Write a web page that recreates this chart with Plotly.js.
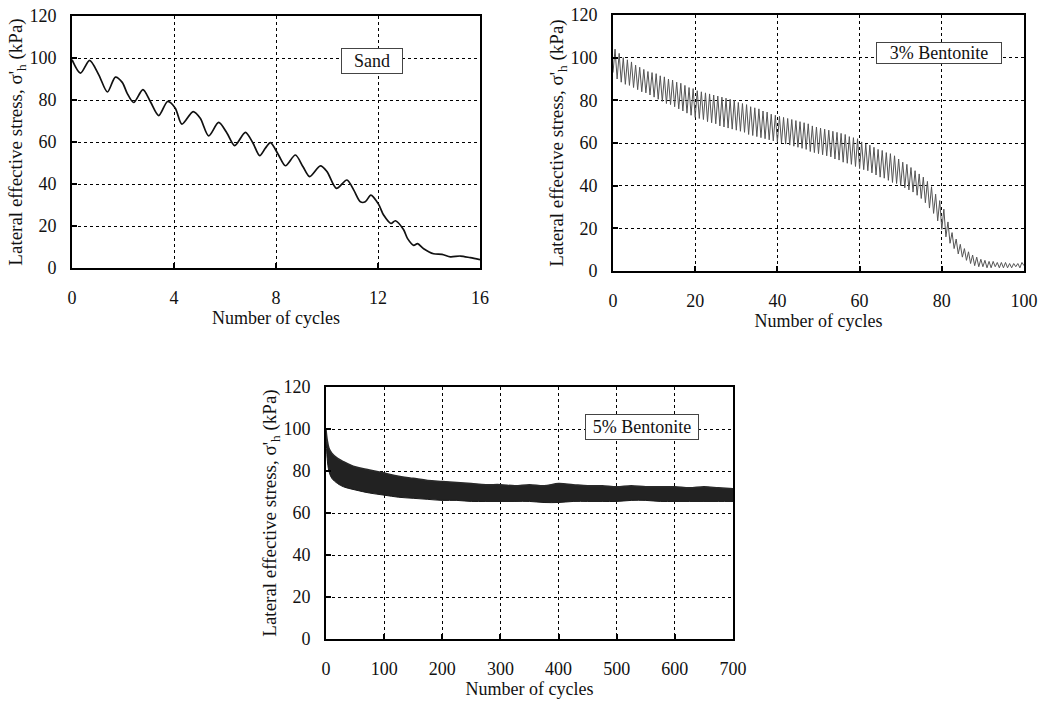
<!DOCTYPE html>
<html>
<head>
<meta charset="utf-8">
<script src="https://cdn.plot.ly/plotly-3.0.1.min.js"></script>
<style>html,body{margin:0;padding:0;background:#fff;}#chart{width:1041px;height:702px;}</style>
</head>
<body>
<div id="chart"></div>
<script>
// ---------- Sand (0-16 cycles) ----------
var sandCycles = [0, 0.33, 0.69, 1.05, 1.39, 1.7, 1.97, 2.16, 2.42, 2.78, 3.07, 3.4, 3.75, 4.05, 4.31, 4.75, 5.03, 5.36, 5.75, 6.08, 6.38, 6.8, 7.1, 7.36, 7.58, 7.78, 8.1, 8.37, 8.76, 9.06, 9.32, 9.74, 10.0, 10.37, 10.78, 11.05, 11.31, 11.5, 11.72, 12.02, 12.22, 12.51, 12.68, 13.0, 13.16, 13.4, 13.55, 13.79, 14.18, 14.51, 14.84, 15.23, 15.62, 16];
var sandStress = [99.2, 92.8, 98.9, 92, 83.8, 90.9, 88.4, 83.3, 78.8, 84.9, 79.3, 72.6, 79.3, 76.1, 68.5, 74.5, 71.3, 62.9, 69.3, 64.2, 58.3, 64.6, 59.4, 53.5, 57, 59.7, 53.8, 48.7, 53.8, 48.2, 43.5, 48.6, 45.9, 37.9, 41.9, 37.1, 31.5, 31.5, 34.7, 30.4, 25.2, 21.2, 22.5, 18.3, 14, 10.8, 11.6, 9.2, 6.8, 6.5, 5.3, 5.7, 4.9, 4];

// ---------- 3% Bentonite (0-100 cycles): peak and trough of each cycle ----------
var bent3Peaks = [104, 102, 100, 99, 98, 96.5, 95.5, 94.5, 93.5, 93,
  92.5, 91.5, 91, 90, 89.5, 88.5, 88, 87, 86, 85.5,
  84.5, 84, 83.5, 83, 82.5, 82, 81.5, 81, 80.5, 80,
  79, 78.5, 78, 77, 76.5, 76, 75, 74.5, 73.5, 73,
  72.5, 72, 71.5, 71, 70.5, 70, 69.5, 69, 68, 67.5,
  67, 66.5, 66, 65.5, 65, 64.5, 64, 63, 62.5, 62,
  60.5, 59.5, 59, 58, 57, 56.5, 55.5, 55, 54, 52.5,
  51, 50, 48.5, 47, 45.5, 44, 42, 39.5, 36, 33,
  29, 23, 18, 15, 12.5, 10.5, 9, 7.5, 6.5, 5.5,
  5, 4.5, 4.5, 4, 4, 4, 3.5, 3.5, 3.5, 4];
var bent3Troughs = [93, 90, 88.5, 87.5, 87, 86, 85, 84, 83.5, 82.5,
  81.5, 80.5, 79.5, 78.5, 78, 77, 76, 75, 74, 73,
  72, 71.5, 71, 70, 69.5, 69, 68, 67.5, 67, 66.5,
  66, 65.5, 65, 64, 63.5, 63, 62.5, 62, 61.5, 61,
  60.5, 60, 59.5, 59, 58.5, 58, 57.5, 57, 56, 55.5,
  55, 54.5, 54, 53.5, 52.5, 52, 51, 50.5, 50, 49,
  48, 47.5, 47, 46, 45, 44, 43.5, 42.5, 41.5, 41,
  40, 39, 38, 37, 35.5, 34, 32, 29.5, 27, 23.5,
  19.5, 16, 13, 10.5, 8, 6.5, 5, 3.5, 2.5, 2,
  2, 1.5, 1.5, 2, 1.5, 1.5, 1.5, 1.5, 2, 1.5, 2.5];

// ---------- 5% Bentonite (0-700 cycles): band envelope ----------
var bent5Cycles = [0, 2, 5, 10, 20, 30, 50, 75, 100, 125, 150, 175, 200, 225, 250, 275, 300, 325, 350, 375, 400, 425, 450, 475, 500, 525, 550, 575, 600, 625, 650, 675, 700];
var bent5Upper = [100, 95, 91, 88.5, 86, 84.5, 82, 80.5, 79, 77.5, 76.5, 75.5, 75, 74.5, 74, 73.5, 73.5, 73, 73.5, 73, 74, 73.5, 73, 73, 72.5, 73, 72.5, 72.5, 72.5, 72, 72.5, 72, 71.5];
var bent5Lower = [98, 86, 80, 76.5, 74, 72.5, 71, 69.5, 68.5, 67.5, 67, 66.5, 66, 66, 65.5, 65.5, 65.5, 65.5, 65.5, 65, 65, 65.5, 65.5, 65.5, 65.5, 66, 66, 65.5, 65.5, 65.5, 65.5, 65.5, 65.5];

// tick values
var sandTicks = [0, 4, 8, 12, 16];
var bent3Ticks = [0, 20, 40, 60, 80, 100];
var bent5Ticks = [0, 100, 200, 300, 400, 500, 600, 700];
var stressTicks = [0, 20, 40, 60, 80, 100, 120];

// build zig-zag for 3% bentonite from per-cycle peaks/troughs
var b3x = [], b3y = [];
for (var i = 0; i < bent3Peaks.length; i++) {
  b3x.push(i); b3y.push(bent3Troughs[i]);
  b3x.push(i + 0.5); b3y.push(bent3Peaks[i]);
}
b3x.push(bent3Peaks.length); b3y.push(bent3Troughs[bent3Peaks.length]);

var FONT = "Liberation Serif, Times New Roman, serif";
var yTitle = "Lateral effective stress, σ'<sub>h</sub> (kPa)";

var traces = [
  {x: sandCycles, y: sandStress, type: 'scatter', mode: 'lines', xaxis: 'x', yaxis: 'y',
   line: {color: '#111', width: 1.7, shape: 'spline', smoothing: 0.8}},
  {x: b3x, y: b3y, type: 'scatter', mode: 'lines', xaxis: 'x2', yaxis: 'y2',
   line: {color: '#555', width: 1}},
  {x: bent5Cycles, y: bent5Lower, type: 'scatter', mode: 'lines', xaxis: 'x3', yaxis: 'y3',
   line: {color: '#1a1a1a', width: 1, shape: 'spline'}},
  {x: bent5Cycles, y: bent5Upper, type: 'scatter', mode: 'lines', xaxis: 'x3', yaxis: 'y3',
   fill: 'tonexty', fillcolor: '#222', line: {color: '#2a2a2a', width: 1.5, shape: 'spline'}}
];

function xax(domain, ticks, range, anchor) {
  return {
    domain: domain, anchor: anchor, range: range, tickvals: ticks,
    showline: true, linecolor: '#000', linewidth: 2, mirror: true,
    showgrid: true, gridcolor: '#000', griddash: 'dot', gridwidth: 1,
    zeroline: false, ticks: 'inside', ticklen: 5, tickwidth: 2, tickcolor: '#000',
    ticklabelstandoff: 12,
    tickfont: {family: FONT, size: 18, color: '#111'},
    title: {text: 'Number of cycles', font: {family: FONT, size: 18, color: '#111'}, standoff: 0}
  };
}
function yax(domain, anchor) {
  return {
    domain: domain, anchor: anchor, range: [0, 120], tickvals: stressTicks,
    showline: true, linecolor: '#000', linewidth: 2, mirror: true,
    showgrid: true, gridcolor: '#000', griddash: 'dot', gridwidth: 1,
    zeroline: false, ticks: 'inside', ticklen: 5, tickwidth: 2, tickcolor: '#000',
    ticklabelstandoff: 10,
    tickfont: {family: FONT, size: 18, color: '#111'},
    title: {text: yTitle, font: {family: FONT, size: 19, color: '#111'}, standoff: 2}
  };
}

var layout = {
  width: 1041, height: 702,
  margin: {l: 0, r: 0, t: 0, b: 0},
  paper_bgcolor: '#fff', plot_bgcolor: '#fff',
  showlegend: false,
  font: {family: FONT, size: 18, color: '#111'},
  xaxis: xax([72/1041, 480/1041], sandTicks, [0, 16], 'y'),
  yaxis: yax([1 - 268/702, 1 - 16/702], 'x'),
  xaxis2: xax([613/1041, 1024/1041], bent3Ticks, [0, 100], 'y2'),
  yaxis2: yax([1 - 271/702, 1 - 15/702], 'x2'),
  xaxis3: xax([326/1041, 733/1041], bent5Ticks, [0, 700], 'y3'),
  yaxis3: yax([1 - 639/702, 1 - 387/702], 'x3'),
  annotations: [
    {text: 'Sand', xref: 'x', yref: 'y', x: 11.75, y: 98.6, showarrow: false,
     font: {family: FONT, size: 18, color: '#111'}, bgcolor: '#fff', bordercolor: '#444', borderwidth: 1,
     width: 58, height: 22, borderpad: 1},
    {text: '3% Bentonite', xref: 'x2', yref: 'y2', x: 79.3, y: 102, showarrow: false,
     font: {family: FONT, size: 18, color: '#111'}, bgcolor: '#fff', bordercolor: '#444', borderwidth: 1,
     width: 122, height: 18, borderpad: 1},
    {text: '5% Bentonite', xref: 'x3', yref: 'y3', x: 543, y: 100.9, showarrow: false,
     font: {family: FONT, size: 18, color: '#111'}, bgcolor: '#fff', bordercolor: '#444', borderwidth: 1,
     width: 110, height: 22, borderpad: 1}
  ]
};

Plotly.newPlot('chart', traces, layout, {displayModeBar: false, staticPlot: true});
</script>
</body>
</html>
